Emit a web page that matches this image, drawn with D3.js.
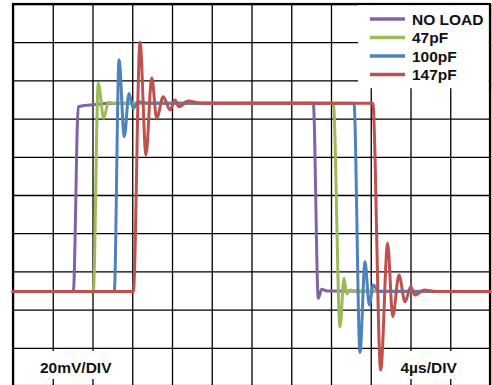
<!DOCTYPE html>
<html>
<head>
<meta charset="utf-8">
<script src="https://cdn.jsdelivr.net/npm/d3@7"></script>
<style>
  html, body { margin: 0; padding: 0; background: #fff; }
  svg { display: block; }
  text { font-family: "Liberation Sans", Arial, sans-serif; font-weight: bold; }
</style>
</head>
<body>
<script>
// ---- data (time in µs, amplitude in mV) ----
const seriesNames = ["NO LOAD", "47pF", "100pF", "147pF"];
const seriesColors = ["#8064A2", "#9BBB59", "#4F81BD", "#C0504D"];

const noLoadT = [0, 6.07, 6.57, 8.0, 10.3, 30.22, 30.72, 31.06, 31.6, 48];
const noLoadV = [-0.5, -0.5, 96.2, 97.3, 98.0, 98.0, -4.1, 0.6, -0.3, -0.5];

const pf47T = [0, 8.08, 8.58, 9.13, 9.6, 10.2, 32.23, 32.91, 33.31, 33.58, 33.91, 34.5, 48];
const pf47V = [-0.5, -0.5, 108.5, 90.2, 98.6, 97.9, 98, -19, 6.4, -1.8, 0.2, -0.5, -0.5];

const pf100T = [0, 10.19, 10.67, 11.2, 11.67, 12.1, 12.6, 13.5, 34.31, 34.92, 35.42, 35.85, 36.26, 36.8, 48];
const pf100V = [-0.5, -0.5, 120.7, 80.5, 103.2, 95.4, 98.8, 98, 98, -32.4, 15.1, -7.6, 2.9, -0.5, -0.5];

const pf147T = [0, 12.11, 12.78, 13.38, 13.96, 14.46, 15.12, 15.8, 16.3, 16.7, 17.61, 19, 36.2, 37.0, 37.7, 38.21, 38.84, 39.45, 40.02, 40.45, 41.36, 42.5, 48];
const pf147V = [-0.5, -0.5, 130, 70.9, 111.4, 90.2, 101.5, 94.5, 99.7, 96.2, 99.2, 98, 98, -41.6, 24.7, -13.7, 8.1, -5.9, 1.9, -2.4, 0.2, -0.5, -0.5];

const xGridTicks = [0, 4, 8, 12, 16, 20, 24, 28, 32, 36, 40, 44, 48];          // 4µs/DIV
const yGridTicks = [-50, -30, -10, 10, 30, 50, 70, 90, 110, 130, 150];          // 20mV/DIV
const voltLabel = "20mV/DIV";
const timeLabel = "4µs/DIV";

// ---- layout ----
const W = 492, H = 385;
const pLeft = 13, pTop = 4, pRight = 490, pBottom = 386;

const svg = d3.select("body").append("svg").attr("width", W).attr("height", H);

const x = d3.scaleLinear().domain([0, 48]).range([pLeft, pRight]);
const y = d3.scaleLinear().domain([-50, 150]).range([pBottom, pTop]);

// grid via axes
svg.append("g")
  .attr("transform", `translate(0,${pBottom})`)
  .call(d3.axisBottom(x).tickValues(xGridTicks).tickSize(-(pBottom - pTop)).tickFormat(""))
  .call(g => g.select(".domain").remove())
  .call(g => g.selectAll("line").attr("stroke", "#000").attr("stroke-width", 1.3));

svg.append("g")
  .attr("transform", `translate(${pLeft},0)`)
  .call(d3.axisLeft(y).tickValues(yGridTicks).tickSize(-(pRight - pLeft)).tickFormat(""))
  .call(g => g.select(".domain").remove())
  .call(g => g.selectAll("line").attr("stroke", "#000").attr("stroke-width", 1.3));

// frame
svg.append("rect")
  .attr("x", pLeft).attr("y", pTop)
  .attr("width", pRight - pLeft).attr("height", pBottom - pTop)
  .attr("fill", "none").attr("stroke", "#000").attr("stroke-width", 2.2);

// scale labels with white background
svg.append("rect").attr("x", 20).attr("y", 351).attr("width", 105).attr("height", 28).attr("fill", "#fff");
svg.append("text").attr("x", 40).attr("y", 372.5).attr("font-size", "15.5px").attr("fill", "#111").text(voltLabel);
svg.append("rect").attr("x", 386).attr("y", 351).attr("width", 88).attr("height", 28).attr("fill", "#fff");
svg.append("text").attr("x", 400.5).attr("y", 372.5).attr("font-size", "15.5px").attr("fill", "#111").text(timeLabel);

// traces
const allT = [noLoadT, pf47T, pf100T, pf147T];
const allV = [noLoadV, pf47V, pf100V, pf147V];
const line = d3.line().x(d => x(d[0])).y(d => y(d[1])).curve(d3.curveMonotoneX);

allT.forEach((ts, i) => {
  const pts = ts.map((t, j) => [t, allV[i][j]]);
  svg.append("path")
    .attr("d", line(pts))
    .attr("fill", "none")
    .attr("stroke", seriesColors[i])
    .attr("stroke-width", 3)
    .attr("stroke-linejoin", "round")
    .attr("stroke-linecap", "round");
});

// legend
svg.append("rect").attr("x", 358).attr("y", 5.2).attr("width", 130.8).attr("height", 83).attr("fill", "#fff");
const legendY = [19, 37.5, 56, 74.5];
seriesNames.forEach((name, i) => {
  svg.append("line")
    .attr("x1", 370).attr("x2", 405)
    .attr("y1", legendY[i]).attr("y2", legendY[i])
    .attr("stroke", seriesColors[i]).attr("stroke-width", 3.5);
  svg.append("text")
    .attr("x", 412).attr("y", legendY[i])
    .attr("dy", "0.36em")
    .attr("font-size", "15.5px").attr("fill", "#111")
    .text(name);
});
// redraw the frame edges over the legend box
svg.append("line").attr("x1", pRight).attr("x2", pRight).attr("y1", pTop).attr("y2", 90)
  .attr("stroke", "#000").attr("stroke-width", 2.2);
svg.append("line").attr("x1", 358).attr("x2", pRight).attr("y1", pTop).attr("y2", pTop)
  .attr("stroke", "#000").attr("stroke-width", 2.2);
</script>
</body>
</html>
